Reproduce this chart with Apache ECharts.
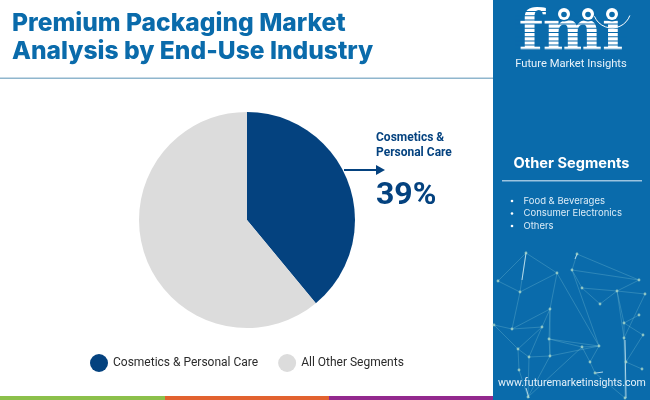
<!DOCTYPE html>
<html><head><meta charset="utf-8">
<style>html,body{margin:0;padding:0;background:#fff}#c{width:650px;height:400px}</style>
<script src="https://cdn.jsdelivr.net/npm/echarts@6/dist/echarts.min.js"></script>
</head><body><div id="c"></div>
<script>
const categories = ["Cosmetics & Personal Care", "All Other Segments"];
const shares = [39, 61];
const sliceColors = ["#04427f", "#dcdcdc"];
const calloutLines = ["Cosmetics &", "Personal Care"];
const calloutValue = "39%";
const titleLines = ["Premium Packaging Market", "Analysis by End-Use Industry"];
const otherSegments = ["Food & Beverages", "Consumer Electronics", "Others"];
const netNodes = [[526,253],[577,254],[572,270],[557,273],[639,280],[520,292],[582,288],[617,291],[645,294],[600,304],[550,309],[639,315],[624,323],[542,327],[512,329],[643,335],[624,338],[549,339],[599,346],[582,347],[518,349],[550,356],[529,357],[626,362],[590,362],[642,369],[519,370],[595,373],[498,281],[494,325],[528,397],[625,398]];
const netEdges = [[0,5],[0,3],[0,28],[28,5],[5,3],[3,10],[3,18],[10,13],[10,14],[10,17],[5,14],[13,14],[13,20],[14,29],[29,20],[10,21],[13,22],[17,18],[17,19],[17,21],[19,18],[21,22],[21,18],[22,30],[20,26],[20,22],[26,30],[1,4],[1,2],[2,4],[2,6],[6,7],[7,4],[7,8],[6,9],[9,7],[2,18],[7,12],[12,16],[12,11],[16,8],[12,15],[16,23],[16,31],[23,25],[23,15],[18,24],[24,27],[19,24],[19,30],[27,31],[21,30],[7,16]];
const brightEdges = [[526,253,522,280],[577,254,575,259],[596,373,603,372],[526,388,529,398],[625,340,626,398]];

const PANEL = "#0a6bab";
const graphic = [];
graphic.push({type:"rect",shape:{x:493,y:0,width:157,height:400},style:{fill:PANEL},silent:true});
graphic.push({type:"rect",shape:{x:0,y:396,width:165,height:4},style:{fill:"#8cc04b"}});
graphic.push({type:"rect",shape:{x:165,y:396,width:164,height:4},style:{fill:"#e2622f"}});
graphic.push({type:"rect",shape:{x:329,y:396,width:164,height:4},style:{fill:"#93298e"}});
graphic.push({type:"rect",shape:{x:0,y:77.5,width:493,height:1.5},style:{fill:"#8fb6cd"}});
titleLines.forEach((t,i)=>graphic.push({type:"text",x:12,y:24+i*27.5,style:{text:t,font:"800 24.6px Inter",fill:"#0a6bab",textVerticalAlign:"middle"}}));
netEdges.forEach(([a,b])=>graphic.push({type:"line",shape:{x1:netNodes[a][0],y1:netNodes[a][1],x2:netNodes[b][0],y2:netNodes[b][1]},style:{stroke:"rgba(150,215,225,0.36)",lineWidth:0.7}}));
brightEdges.forEach(e=>graphic.push({type:"line",shape:{x1:e[0],y1:e[1],x2:e[2],y2:e[3]},style:{stroke:"rgba(225,245,250,0.75)",lineWidth:1}}));
netNodes.forEach(n=>graphic.push({type:"circle",shape:{cx:n[0],cy:n[1],r:1.4},style:{fill:"rgba(170,215,200,0.8)"}}));
// logo
graphic.push({type:"text",x:571,y:35,style:{text:"fmi",font:"bold 56px 'DejaVu Serif'",fill:"#fff",textAlign:"center",textVerticalAlign:"middle"}});
for(let y=11;y<56;y+=4.2){graphic.push({type:"rect",shape:{x:515,y:y,width:112,height:1},style:{fill:PANEL}});}
[[564,14],[588,14],[612,14]].forEach(p=>{
  graphic.push({type:"circle",shape:{cx:p[0],cy:p[1],r:7.5},style:{fill:PANEL}});
  graphic.push({type:"circle",shape:{cx:p[0],cy:p[1],r:6},style:{fill:"#fff"}});
  graphic.push({type:"circle",shape:{cx:p[0],cy:p[1]+0.5,r:2.8},style:{fill:PANEL}});
});
graphic.push({type:"arc",shape:{cx:612,cy:9,r:19,startAngle:0.35,endAngle:2.75,clockwise:true},style:{stroke:"#fff",fill:null,lineWidth:1}});
graphic.push({type:"text",x:571,y:64,style:{text:"Future Market Insights",font:"11.2px Roboto",fill:"#e8f2fa",textAlign:"center",textVerticalAlign:"middle"}});
// other segments
graphic.push({type:"text",x:571.5,y:164,style:{text:"Other Segments",font:"700 14.6px Inter",fill:"#fff",textAlign:"center",textVerticalAlign:"middle"}});
graphic.push({type:"rect",shape:{x:502,y:180,width:140,height:1.5},style:{fill:"#9cc4e0"}});
otherSegments.forEach((s,i)=>{
  graphic.push({type:"circle",shape:{cx:512,cy:201+i*12.5,r:1.3},style:{fill:"#fff"}});
  graphic.push({type:"text",x:523.5,y:201+i*12.5,style:{text:s,font:"9.5px Inter",fill:"#dcecf7",textVerticalAlign:"middle"}});
});
graphic.push({type:"text",x:572,y:383,style:{text:"www.futuremarketinsights.com",font:"10.6px Roboto",fill:"#e6f2fa",textAlign:"center",textVerticalAlign:"middle"}});
// callout
calloutLines.forEach((t,i)=>graphic.push({type:"text",x:376,y:138+i*15,style:{text:t,font:"bold 12px Roboto",fill:"#04427f",textVerticalAlign:"middle"}}));
graphic.push({type:"rect",shape:{x:344,y:169,width:32,height:2},style:{fill:"#04427f"}});
graphic.push({type:"polygon",shape:{points:[[376,165],[385,170],[376,175]]},style:{fill:"#04427f"}});
graphic.push({type:"text",x:376,y:196,style:{text:calloutValue,font:"bold 32px Roboto",fill:"#04427f",textVerticalAlign:"middle"}});

const chart = echarts.init(document.getElementById("c"),null,{renderer:"canvas"});
chart.setOption({
  animation:false,
  backgroundColor:"#fff",
  legend:{
    left:85,top:349,itemGap:20,itemWidth:18,itemHeight:18,icon:"circle",
    data:categories,
    textStyle:{fontFamily:"Roboto",fontSize:12,color:"#2b2b2b"},
    selectedMode:false
  },
  graphic:graphic,
  series:[{
    type:"pie",center:[247,220],radius:[0,108],startAngle:90,clockwise:true,
    silent:true,label:{show:false},labelLine:{show:false},
    data:categories.map((c,i)=>({name:c,value:shares[i],itemStyle:{color:sliceColors[i]}}))
  }]
});
</script></body></html>
